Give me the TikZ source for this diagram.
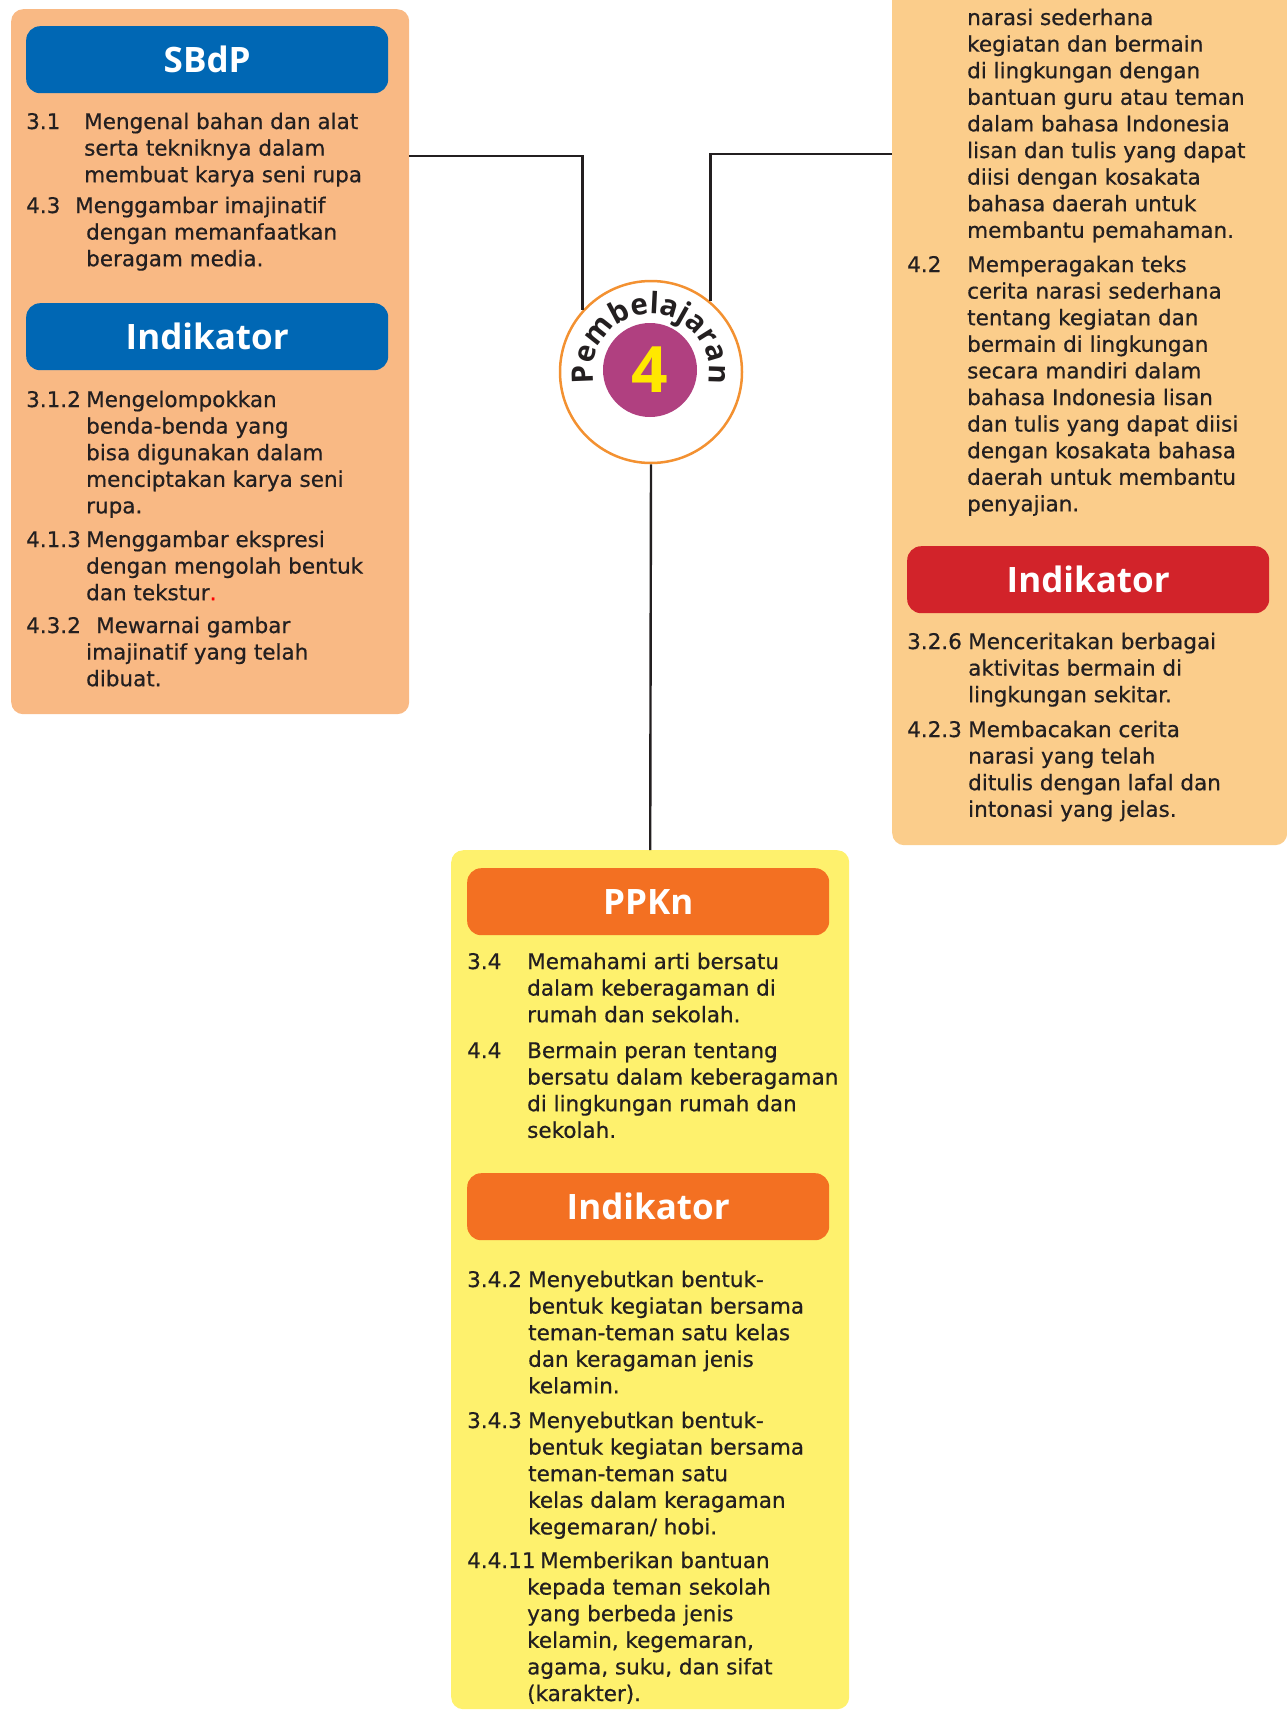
\documentclass[tikz,border=0pt]{standalone}
\usepackage{fontspec}
\setmainfont{DejaVu Sans}[FakeBold=0.6]
\newfontfamily\headfont{Open Sans}
\usepackage{xcolor}
\usepackage{tikz}
\usetikzlibrary{decorations.text}

\definecolor{panelL}{HTML}{F9B984}
\definecolor{panelR}{HTML}{FBCD8B}
\definecolor{panelY}{HTML}{FEF16D}
\definecolor{hdBlue}{HTML}{0067B4}
\definecolor{hdRed}{HTML}{D2232A}
\definecolor{hdOrange}{HTML}{F37022}
\definecolor{ringOr}{HTML}{F39131}
\definecolor{plum}{HTML}{B04080}
\definecolor{numYel}{HTML}{FFE800}
\definecolor{ink}{HTML}{231F20}

\newcommand\bodyfont{\fontsize{21.5}{26.6}\selectfont}
\def\ls{26.6}

\begin{document}
\begin{tikzpicture}[
    x=1pt, y=1pt,
    panel/.style={rectangle, rounded corners=12pt, inner sep=0pt, anchor=north west},
    hdr/.style={rectangle, rounded corners=14pt, minimum width=362pt, minimum height=67pt,
                inner sep=0pt, anchor=north west, text=white,
                font=\headfont\bfseries\fontsize{35}{38}\selectfont},
    num/.style={anchor=base west, inner sep=0pt, text=ink, font=\bodyfont},
    % multi-line items are placed by the baseline of their last line
    itm/.style={anchor=base west, inner sep=0pt, text=ink, align=left, font=\bodyfont},
    link/.style={draw=ink, line width=2.4pt},
  ]
    \useasboundingbox (0,0) rectangle (1287,-1710);
    % panels
    \node[panel, fill=panelL, minimum width=398pt, minimum height=705pt] (psbdp) at (11,-9) {};
    \node[panel, fill=panelR, minimum width=395pt, minimum height=875pt] (pbind) at (892,30) {};
    \node[panel, fill=panelY, minimum width=398pt, minimum height=859pt] (pppkn) at (451,-850) {};

    % centre badge
    \node[circle, draw=ringOr, line width=2.5pt, fill=white, minimum size=182pt, inner sep=0pt]
      (pemb) at (651,-372) {};
    \node[circle, fill=plum, minimum size=94pt, inner sep=0pt, text=numYel,
          font=\headfont\bfseries\fontsize{64}{64}\selectfont] (four) at (650,-370) {4};
    \path[decorate, decoration={text along path, text align=center,
          text={|\headfont\bfseries\fontsize{29.5}{29.5}\selectfont\color{ink}|Pembelajaran}}]
      (pemb.center) ++(200:58) arc[start angle=200, end angle=-20, radius=58];

    % connectors
    \coordinate (kL) at (583,-156);
    \coordinate (kR) at (710,-154);
    \draw[link] (psbdp.east |- kL) -| (pemb.138);
    \draw[link] (pemb.50) |- (pbind.west |- kR);
    \draw[link] (pemb.south) -- (pppkn.north);

    % SBdP
    \node[hdr, fill=hdBlue] (hsbdp) at (26,-26) {SBdP};
    \node[num] (n31) at (26,-129) {3.1};
    \node[itm] (t31) at (84,-129-2*\ls) {Mengenal bahan dan alat\\serta  tekniknya dalam\\membuat karya seni rupa};
    \node[num] (n43) at (26,-213) {4.3};
    \node[itm] (t43) at (75,-213-2*\ls) {Menggambar imajinatif\\\hspace*{11pt}dengan memanfaatkan\\\hspace*{11pt}beragam media.};
    \node[hdr, fill=hdBlue] (isbdp) at (26,-303) {Indikator};
    \node[num] (n312) at (26,-407) {3.1.2};
    \node[itm] (t312) at (86,-407-4*\ls) {Mengelompokkan\\benda-benda yang\\bisa digunakan dalam\\menciptakan karya seni\\rupa.};
    \node[num] (n413) at (26,-547) {4.1.3};
    \node[itm] (t413) at (86,-547-2*\ls) {Menggambar ekspresi\\dengan mengolah bentuk\\dan tekstur\textcolor{red}{.}};
    \node[num] (n432) at (26,-633) {4.3.2};
    \node[itm] (t432) at (86,-633-2*\ls) {\hspace*{10pt}Mewarnai gambar\\imajinatif yang telah\\dibuat.};

    % Bahasa Indonesia
    \node[itm] (t32) at (967,-25-8*\ls) {narasi sederhana\\kegiatan dan bermain\\di lingkungan dengan\\bantuan guru atau teman\\dalam bahasa Indonesia\\lisan dan tulis yang dapat\\diisi dengan kosakata\\bahasa daerah untuk\\membantu pemahaman.};
    \node[num] (n42) at (907,-272) {4.2};
    \node[itm] (t42) at (967,-272-9*\ls) {Memperagakan teks\\cerita narasi sederhana\\tentang kegiatan dan\\bermain di lingkungan\\secara mandiri dalam\\bahasa Indonesia lisan\\dan tulis yang dapat diisi\\dengan kosakata bahasa\\daerah untuk membantu\\penyajian.};
    \node[hdr, fill=hdRed] (ibind) at (907,-546) {Indikator};
    \node[num] (n326) at (907,-649) {3.2.6};
    \node[itm] (t326) at (968,-649-2*\ls) {Menceritakan berbagai\\aktivitas bermain di\\lingkungan sekitar.};
    \node[num] (n423) at (907,-737) {4.2.3};
    \node[itm] (t423) at (968,-737-3*\ls) {Membacakan cerita\\narasi yang telah\\ditulis dengan lafal dan\\intonasi yang jelas.};

    % PPKn
    \node[hdr, fill=hdOrange] (hppkn) at (467,-868) {PPKn};
    \node[num] (n34) at (467,-969) {3.4};
    \node[itm] (t34) at (527,-969-2*\ls) {Memahami arti bersatu\\dalam keberagaman di\\rumah dan sekolah.};
    \node[num] (n44) at (467,-1058) {4.4};
    \node[itm] (t44) at (527,-1058-3*\ls) {Bermain peran tentang\\bersatu dalam keberagaman\\di lingkungan rumah dan\\sekolah.};
    \node[hdr, fill=hdOrange] (ippkn) at (467,-1173) {Indikator};
    \node[num] (n342) at (467,-1287) {3.4.2};
    \node[itm] (t342) at (528,-1287-4*\ls) {Menyebutkan bentuk-\\bentuk kegiatan bersama\\teman-teman satu kelas\\dan keragaman jenis\\kelamin.};
    \node[num] (n343) at (467,-1428) {3.4.3};
    \node[itm] (t343) at (528,-1428-4*\ls) {Menyebutkan bentuk-\\bentuk kegiatan bersama\\teman-teman satu\\kelas dalam keragaman\\kegemaran/ hobi.};
    \node[num] (n4411) at (467,-1568) {4.4.11};
    \node[itm] (t4411) at (527,-1568-5*\ls) {\hspace*{13pt}Memberikan bantuan\\kepada teman sekolah\\yang berbeda jenis\\kelamin, kegemaran,\\agama, suku, dan sifat\\(karakter).};
  \end{tikzpicture}
\end{document}
